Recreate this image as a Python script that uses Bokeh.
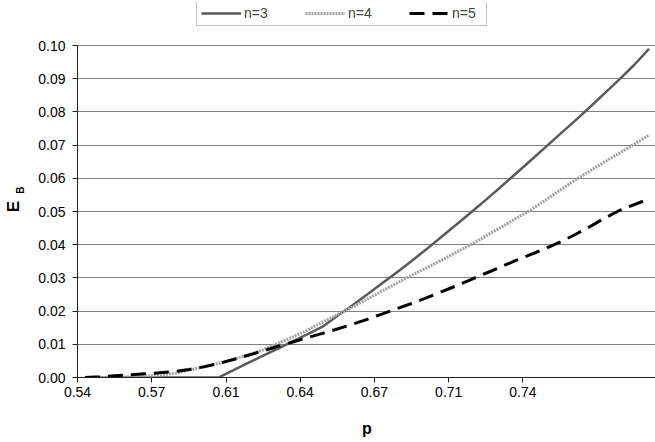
from bokeh.plotting import figure
from bokeh.models import (Range1d, FixedTicker, Legend, LegendItem, LinearAxis,
                          NumeralTickFormatter)
from bokeh.embed import file_html
from bokeh.resources import INLINE

# ---- data ----
p_values = [0.54, 0.5467, 0.5533, 0.56, 0.5667, 0.5733, 0.58, 0.5867, 0.5933, 0.60,
            0.6067, 0.6133, 0.62, 0.6267, 0.6333, 0.64, 0.6467, 0.6533, 0.66, 0.6667,
            0.6733, 0.68, 0.6867, 0.6933, 0.70, 0.7067, 0.7133, 0.72, 0.7267, 0.7333,
            0.74, 0.7467, 0.7533, 0.76, 0.7667, 0.7733, 0.78, 0.7867, 0.7933]

n3 = [0.0, 0.0, 0.0, 0.0, 0.0, 0.0, 0.0, 0.0, 0.0, 0.0,
      0.0022, 0.0044, 0.0066, 0.0087, 0.0109, 0.0131, 0.0153, 0.0185, 0.0217, 0.0250,
      0.0283, 0.0316, 0.0351, 0.0386, 0.0423, 0.0460, 0.0497, 0.0535, 0.0574, 0.0613,
      0.0653, 0.0693, 0.0733, 0.0773, 0.0814, 0.0856, 0.0898, 0.0942, 0.0990]

n4 = [0.0, 0.0, 0.0001, 0.0002, 0.0004, 0.0007, 0.0012, 0.0022, 0.0032, 0.0043,
      0.0055, 0.0068, 0.0083, 0.0103, 0.0122, 0.0143, 0.0167, 0.0189, 0.0212, 0.0236,
      0.0260, 0.0284, 0.0308, 0.0330, 0.0353, 0.0377, 0.0400, 0.0426, 0.0452, 0.0478,
      0.0504, 0.0534, 0.0564, 0.0594, 0.0622, 0.0649, 0.0676, 0.0703, 0.0730]

n5 = [0.0, 0.0002, 0.0005, 0.0008, 0.0011, 0.0014, 0.0018, 0.0024, 0.0032, 0.0042,
      0.0054, 0.0067, 0.0080, 0.0094, 0.0107, 0.0120, 0.0133, 0.0146, 0.0160, 0.0175,
      0.0191, 0.0207, 0.0223, 0.0240, 0.0258, 0.0276, 0.0295, 0.0314, 0.0333, 0.0352,
      0.0370, 0.0388, 0.0408, 0.0430, 0.0454, 0.0480, 0.0503, 0.0521, 0.0538]

series_names = ["n=3", "n=4", "n=5"]
x_tick_labels = ["0.54", "0.57", "0.61", "0.64", "0.67", "0.71", "0.74"]
label_every = 5
y_ticks = [0.00, 0.01, 0.02, 0.03, 0.04, 0.05, 0.06, 0.07, 0.08, 0.09, 0.10]
x_title = "p"
y_title_main = "E"
y_title_sub = "B"

FONT = "Liberation Sans"
FRAME_W = 579
PLOT_H = 332        # height of the 0.00..0.10 plot area in px
FRAME_H = 375       # frame also covers the legend strip above the plot area
NBSP = "\u00a0"

half = (p_values[1] - p_values[0]) / 2.0
x_start, x_end = p_values[0] - half, p_values[-1] + half
y_end = y_ticks[-1] * FRAME_H / PLOT_H
tick_pos = [v - half for v in p_values[::label_every][:len(x_tick_labels)]]

p = figure(frame_width=FRAME_W, frame_height=FRAME_H, output_backend="svg",
           toolbar_location=None,
           x_range=Range1d(x_start, x_end),
           y_range=Range1d(y_ticks[0], y_end),
           min_border_left=74, min_border_top=2, min_border_right=1,
           min_border_bottom=20)
p.background_fill_color = "white"
p.border_fill_color = "white"
p.outline_line_color = None

# grid
p.xgrid.grid_line_color = None
p.ygrid.grid_line_color = "#808080"
p.ygrid.grid_line_width = 1

# y axis
p.yaxis.ticker = FixedTicker(ticks=y_ticks)
p.yaxis.bounds = (y_ticks[0], y_ticks[-1])
p.yaxis.formatter = NumeralTickFormatter(format="0.00")
p.yaxis.major_tick_out = 5
p.yaxis.major_tick_in = 0
p.yaxis.minor_tick_out = 0
p.yaxis.minor_tick_in = 0
p.yaxis.axis_line_color = "#222222"
p.yaxis.major_tick_line_color = "#222222"
p.yaxis.major_label_text_font = FONT
p.yaxis.major_label_text_font_size = "14px"
p.yaxis.major_label_text_color = "black"
p.yaxis.major_label_standoff = 7

# right edge of the plot area box
p.line([x_end, x_end], [y_ticks[0], y_ticks[-1]], line_color="#808080", line_width=2)

# y title E with subscript B, as two extra (tickless) axes on the left
def title_axis(text, size, standoff):
    return LinearAxis(axis_label=text, axis_label_text_font=FONT,
                      axis_label_text_font_size=size,
                      axis_label_text_font_style="bold",
                      axis_label_text_color="black",
                      axis_label_standoff=standoff,
                      axis_line_color=None, major_tick_line_color=None,
                      minor_tick_line_color=None, major_tick_out=0, major_tick_in=0,
                      minor_tick_out=0, minor_tick_in=0, major_label_standoff=0,
                      ticker=FixedTicker(ticks=[y_ticks[0]]),
                      major_label_overrides={y_ticks[0]: ""})

p.add_layout(title_axis(y_title_sub, "10px", 10), "left")
p.add_layout(title_axis(y_title_main + NBSP * 7, "17px", -11), "left")

# x axis
p.xaxis.ticker = FixedTicker(ticks=tick_pos)
p.xaxis.major_label_overrides = {v: t for v, t in zip(tick_pos, x_tick_labels)}
p.xaxis.major_tick_out = 5
p.xaxis.major_tick_in = 0
p.xaxis.minor_tick_out = 0
p.xaxis.minor_tick_in = 0
p.xaxis.major_tick_line_color = "#222222"
p.xaxis.axis_line_color = "#222222"
p.xaxis.major_label_text_font = FONT
p.xaxis.major_label_text_font_size = "14px"
p.xaxis.major_label_text_color = "black"
p.xaxis.major_label_standoff = 4
p.xaxis.axis_label = x_title
p.xaxis.axis_label_text_font = FONT
p.xaxis.axis_label_text_font_size = "16px"
p.xaxis.axis_label_text_font_style = "bold"
p.xaxis.axis_label_text_color = "black"
p.xaxis.axis_label_standoff = 20

# series
r3 = p.line(p_values, n3, line_color="#5a5a5a", line_width=2.5)
r4 = p.line(p_values, n4, line_color="#a3a3a3", line_width=3, line_dash="2 1")
r5 = p.line(p_values, n5, line_color="black", line_width=3, line_dash="15 8")

legend = Legend(items=[LegendItem(label=series_names[0], renderers=[r3]),
                       LegendItem(label=series_names[1], renderers=[r4]),
                       LegendItem(label=series_names[2], renderers=[r5])],
                orientation="horizontal", location=(119, 351),
                label_text_font=FONT, label_text_font_size="14px",
                glyph_width=40, glyph_height=14, label_height=14,
                label_width=30, label_standoff=3, spacing=31, padding=4, margin=0,
                border_line_color="#808080", border_line_width=1,
                background_fill_color="white", background_fill_alpha=1)
p.add_layout(legend, "center")

open("out.html", "w").write(file_html(p, INLINE))
